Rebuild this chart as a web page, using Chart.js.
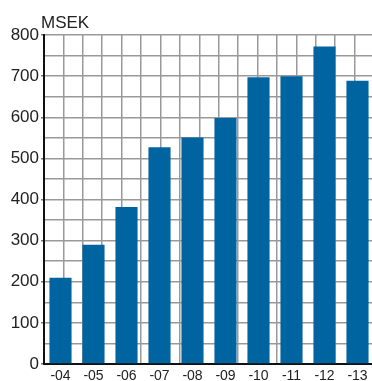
<!DOCTYPE html>
<html lang="sv">
<head>
    <meta charset="UTF-8">
    <title>MSEK</title>
    <script src="https://cdn.jsdelivr.net/npm/chart.js"></script>
    <style>
        html, body { margin: 0; padding: 0; background: #fff; overflow: hidden; }
        #wrap { width: 374px; height: 381px; }
    </style>
</head>
<body>
<div id="wrap">
    <canvas id="myChart"></canvas>
</div>
<script>
    // Données
    const annees = ['-04', '-05', '-06', '-07', '-08', '-09', '-10', '-11', '-12', '-13']
    const valeurs = [210, 290, 382, 527, 551, 598, 697, 700, 772, 689]
    const unite = 'MSEK'

    const police = '"Liberation Sans", Arial, Helvetica, sans-serif'
    const gris = '#999999'

    // Écrit l'unité au-dessus de l'axe Y
    const titreUnite = {
        id: 'titreUnite',
        afterDraw(chart) {
            const {ctx, chartArea} = chart
            ctx.save()
            ctx.font = '17px ' + police
            ctx.fillStyle = '#222'
            ctx.textBaseline = 'alphabetic'
            ctx.textAlign = 'left'
            ctx.fillText(unite, chartArea.left - 3, chartArea.top - 7)
            ctx.restore()
        }
    }

    const ctx = document.getElementById('myChart')
    new Chart(ctx, {
        type: 'bar',
        data: {
            labels: annees,
            datasets: [{
                data: valeurs,
                backgroundColor: '#0064a0',
                borderWidth: 0,
                categoryPercentage: 1,
                barPercentage: 0.67
            }]
        },
        options: {
            responsive: true,
            maintainAspectRatio: false,
            animation: false,
            layout: { padding: { top: 35, left: 0, right: 0, bottom: 0 } },
            plugins: {
                legend: { display: false },
                tooltip: { enabled: false }
            },
            scales: {
                x: {
                    grid: { color: 'transparent', drawTicks: false },
                    border: { display: true, color: '#111', width: 2 },
                    ticks: {
                        color: '#222',
                        padding: 4,
                        font: { family: police, size: 14 }
                    },
                    afterFit: s => { s.height = 17 }
                },
                // grille verticale régulière, indépendante des catégories
                grille: {
                    type: 'linear',
                    position: 'top',
                    min: 0,
                    max: 16,
                    ticks: { display: false, stepSize: 1, maxTicksLimit: 20 },
                    grid: { color: gris, lineWidth: 1.5, drawTicks: false },
                    border: { display: false },
                    afterFit: s => { s.height = 0 }
                },
                y: {
                    min: 0,
                    max: 800,
                    ticks: {
                        stepSize: 50,
                        maxTicksLimit: 20,
                        autoSkip: false,
                        color: '#222',
                        padding: 2,
                        font: { family: police, size: 17 },
                        callback: v => (v % 100 === 0 ? v : '')
                    },
                    grid: {
                        color: gris,
                        lineWidth: 1.5,
                        tickLength: 3,
                        // petit trait seulement aux centaines
                        tickColor: c => (c.tick && c.tick.value % 100 === 0 ? '#777' : 'transparent')
                    },
                    border: { display: true, color: '#111', width: 2 },
                    afterFit: s => { s.width = 44 }
                }
            }
        },
        plugins: [titreUnite]
    })
</script>
</body>
</html>
